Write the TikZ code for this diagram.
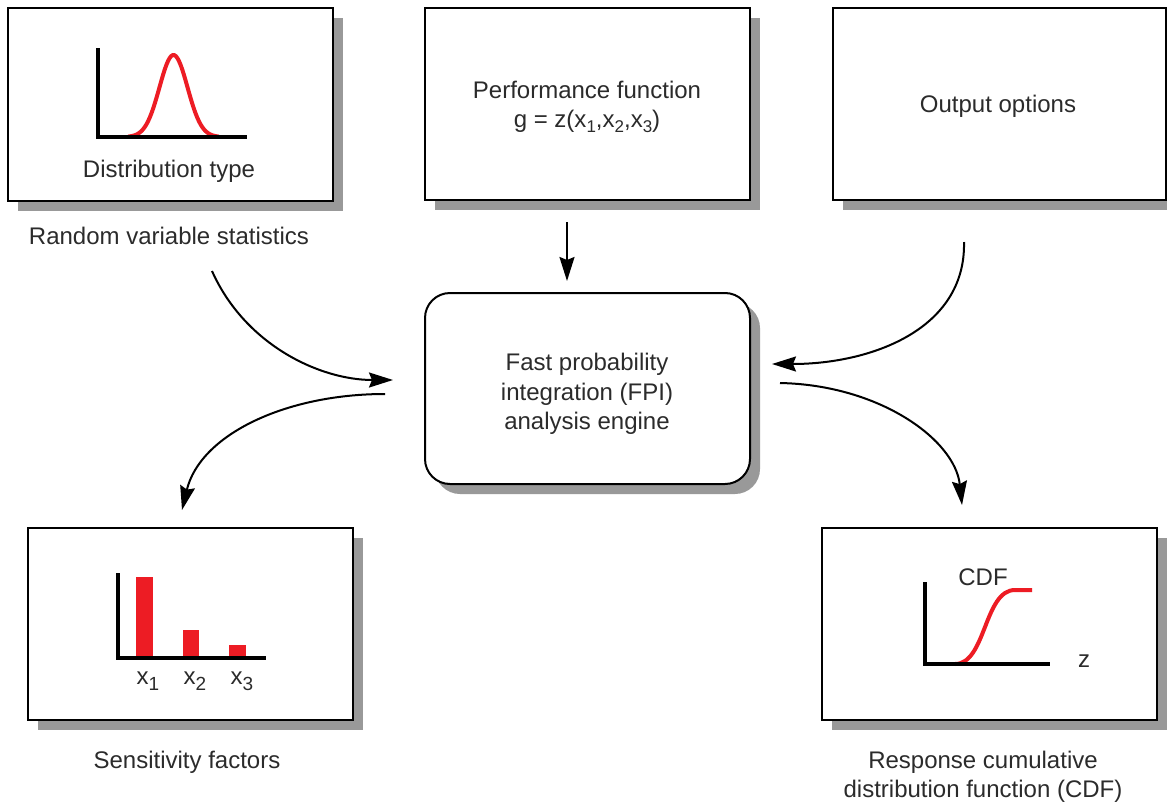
\documentclass[tikz,border=0pt]{standalone}
\usepackage{fontspec}
\setmainfont{Liberation Sans}
\usetikzlibrary{arrows.meta,shadows}
\definecolor{shadowgray}{HTML}{999999}
\definecolor{figred}{HTML}{ED1C24}
\definecolor{txt}{HTML}{2B2B2B}
\newcommand{\sbs}[1]{\raisebox{-5pt}{\fontsize{17}{17}\selectfont #1}}
\newcommand{\sbb}[1]{\raisebox{-6pt}{\fontsize{19}{19}\selectfont #1}}
\begin{document}
\begin{tikzpicture}[x=1pt,y=-1pt,
  box/.style={draw=black,line width=2pt,fill=white,rectangle,inner sep=0pt,
    drop shadow={shadow xshift=10pt,shadow yshift=-10pt,fill=shadowgray,opacity=1}},
  lbl/.style={text=txt,font=\fontsize{24}{29.5}\selectfont,align=center,inner sep=0pt},
  axis/.style={line width=4pt,black},
  redc/.style={line width=4pt,figred},
  arr/.style={line width=2pt,-{Stealth[length=24pt,width=15pt,inset=3pt]}},
  bar/.style={fill=figred,draw=none}]
\useasboundingbox (0,0) rectangle (1167,803);
% boxes
\node[box,minimum width=325pt,minimum height=193pt] (dist) at (170.5,104.5) {};
\node[box,minimum width=325pt,minimum height=192pt] (perf) at (587.5,104) {};
\node[box,minimum width=333pt,minimum height=192pt] (outopt) at (999,104) {};
\node[box,rounded corners=25pt,minimum width=325pt,minimum height=191pt] (fpi) at (587.5,388.5) {};
\node[box,minimum width=325pt,minimum height=192pt] (sens) at (190.5,624) {};
\node[box,minimum width=335pt,minimum height=192pt] (cdf) at (989.5,624) {};
% texts
\node[lbl] (tdist) at (169,171) {Distribution type};
\node[lbl] (trvs) at (169,236) {Random variable statistics};
\node[lbl] (tperf) at (587,107) {Performance function\\g = z(x\sbs{1},x\sbs{2},x\sbs{3})};
\node[lbl] (tout) at (998,106) {Output options};
\node[lbl] (tfpi) at (587,394) {Fast probability\\integration (FPI)\\analysis engine};
\node[lbl] (tsens) at (187,762) {Sensitivity factors};
\node[lbl] (tresp) at (983,777) {Response cumulative\\distribution function (CDF)};
% distribution graphic
\draw[redc] plot[smooth,samples=60,domain=128:219] (\x,{137-82*exp(-((\x-173.5)/14)^2/2)});
\draw[axis] (98,48) -- (98,137) -- (247,137);
% bar chart
\fill[bar] (136,577) rectangle (153,657);
\fill[bar] (183,630) rectangle (199,657);
\fill[bar] (229,645) rectangle (246,657);
\draw[axis] (118,573) -- (118,658) -- (266,658);
\node[lbl] (x1) at (148,681) {x\sbb{1}};
\node[lbl] (x2) at (195,681) {x\sbb{2}};
\node[lbl] (x3) at (242,681) {x\sbb{3}};
% CDF graphic
\draw[redc] (955,664) .. controls (986,664) and (984,590) .. (1015,590) -- (1032,590);
\draw[axis] (925,582) -- (925,664) -- (1050,664);
\node[lbl] (tcdf) at (983,577) {CDF};
\node[lbl] (tz) at (1084,661) {z};
% connectors
\coordinate (a1) at (567,222);
\coordinate (c1s) at (212,271);
\coordinate (c1e) at (393,380);
\coordinate (c2s) at (385,394);
\coordinate (c2e) at (182,510);
\coordinate (c3s) at (964,242);
\coordinate (c3e) at (772,364);
\coordinate (c4s) at (780,383);
\coordinate (c4e) at (962,505);
\draw[arr,shorten >=11pt] (a1) -- (a1 |- fpi.north);
\draw[arr] (c1s) .. controls (245,345) and (320,380) .. (c1e);
\draw[arr] (c2s) .. controls (285,394) and (200,435) .. (c2e);
\draw[arr] (c3s) .. controls (966,330) and (870,364) .. (c3e);
\draw[arr] (c4s) .. controls (880,385) and (955,440) .. (c4e);
\end{tikzpicture}
\end{document}
